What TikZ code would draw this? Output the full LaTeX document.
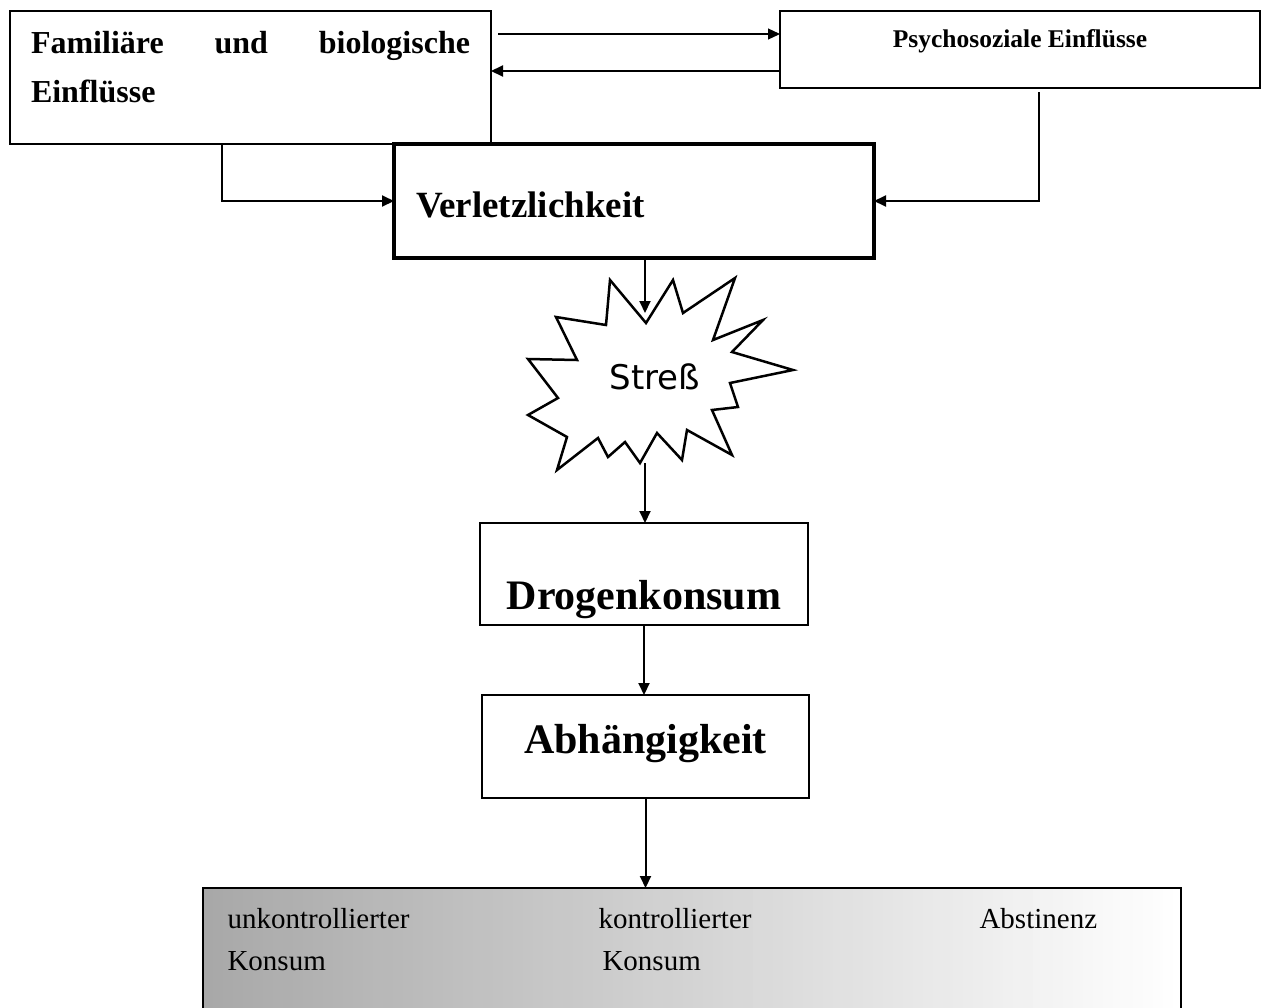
\documentclass[tikz,border=0pt]{standalone}
\usepackage{fontspec}
\setmainfont{Liberation Serif}
\newfontfamily\stressfont{DejaVu Sans}
\usetikzlibrary{arrows.meta,calc,positioning}
\tikzset{
  >={Triangle[length=12pt,width=11pt]},
  box/.style={draw, rectangle, line width=2pt, inner sep=0pt, outer sep=0pt},
  conn/.style={->, line width=2pt},
  plain/.style={anchor=base west, font=\fontsize{29}{34}\selectfont},
}

\begin{document}
\begin{tikzpicture}[
  x=1pt, y=-1pt,
  every node/.style={text=black}
]
\useasboundingbox (0,0) rectangle (1261,1007);

\node[box, anchor=north west, text width=439pt, inner xsep=21pt,
  text height=42pt, text depth=91pt, align=left,
  font=\bfseries\fontsize{32}{49}\selectfont] (fam) at (10,11)
  {Familiäre\hfill und\hfill biologische\\Einflüsse};
\node[box, anchor=north west, minimum width=480pt,
  text height=36pt, text depth=41pt,
  font=\bfseries\fontsize{25.5}{30}\selectfont] (psych) at (780,11)
  {Psychosoziale Einflüsse};
\node[box, line width=3.5pt, anchor=north west, text width=436pt, inner xsep=22pt,
  text height=73pt, text depth=41pt, align=left,
  font=\bfseries\fontsize{37}{44}\selectfont] (verl) at (394,144)
  {Verletzlichkeit};

\draw[line width=2.5pt, line join=miter, fill=white]
  (610,280) -- (646,323) -- (673,280) -- (683,313) -- (735,278) -- (713,340)
  -- (763,320) -- (732,352) -- (793,370) -- (730,383) -- (738,407) -- (712,410)
  -- (732,455) -- (687,430) -- (682,460) -- (657,433) -- (640,463) -- (625,442)
  -- (608,457) -- (598,438) -- (557,470) -- (567,437) -- (528,415) -- (558,398)
  -- (528,359) -- (577,360) -- (556,317) -- (606,325) -- cycle;
\coordinate (sterntop) at (645,313);
\coordinate (sternbot) at (645,463);
\node[font=\stressfont\fontsize{34}{40}\selectfont] (stress) at (655,377) {Streß};

\node[box, minimum width=328pt, text height=86pt, text depth=16pt,
  font=\bfseries\fontsize{42}{48}\selectfont] (drog) at (644,574) {Drogenkonsum};
\node[box, minimum width=327pt, text height=58pt, text depth=45pt,
  font=\bfseries\fontsize{42}{48}\selectfont] (abh) at (645.5,746.5) {Abhängigkeit};

\foreach \i in {0,...,97}{
  \pgfmathsetmacro\pct{68*(1-\i/97)}
  \fill[gray!\pct] (203+\i*10,888) rectangle ++(10.6,125);
}
\node[box, line width=1.5pt, anchor=north west, minimum width=978pt, minimum height=140pt]
  (ergebnis) at (203,888) {};
\node[plain] (unk) at (224,928) {unkontrollierter};
\node[plain] (unkk) at (224,970) {Konsum};
\node[plain] (kon) at (595,928) {kontrollierter};
\node[plain] (konk) at (599,970) {Konsum};
\node[plain] (abst) at (976,928) {Abstinenz};

\coordinate (famr) at (498,34);
\coordinate (psyb) at (1039,92);
\draw[->, line width=1.2pt] (famr) -- (famr -| psych.west);
\draw[conn] ($(psych.north west)+(0,60)$) -- ($(fam.north east)+(0,60)$);
\draw[conn] ($(fam.south west)+(212,0)$) |- (verl.west);
\draw[conn] (psyb) |- (verl.east);
\draw[conn] (verl.south -| sterntop) -- (sterntop);
\draw[conn] (sternbot) -- (sternbot |- drog.north);
\draw[conn] (drog.south) -- (drog.south |- abh.north);
\draw[conn] (abh.south) -- (abh.south |- ergebnis.north);

\end{tikzpicture}
\end{document}
